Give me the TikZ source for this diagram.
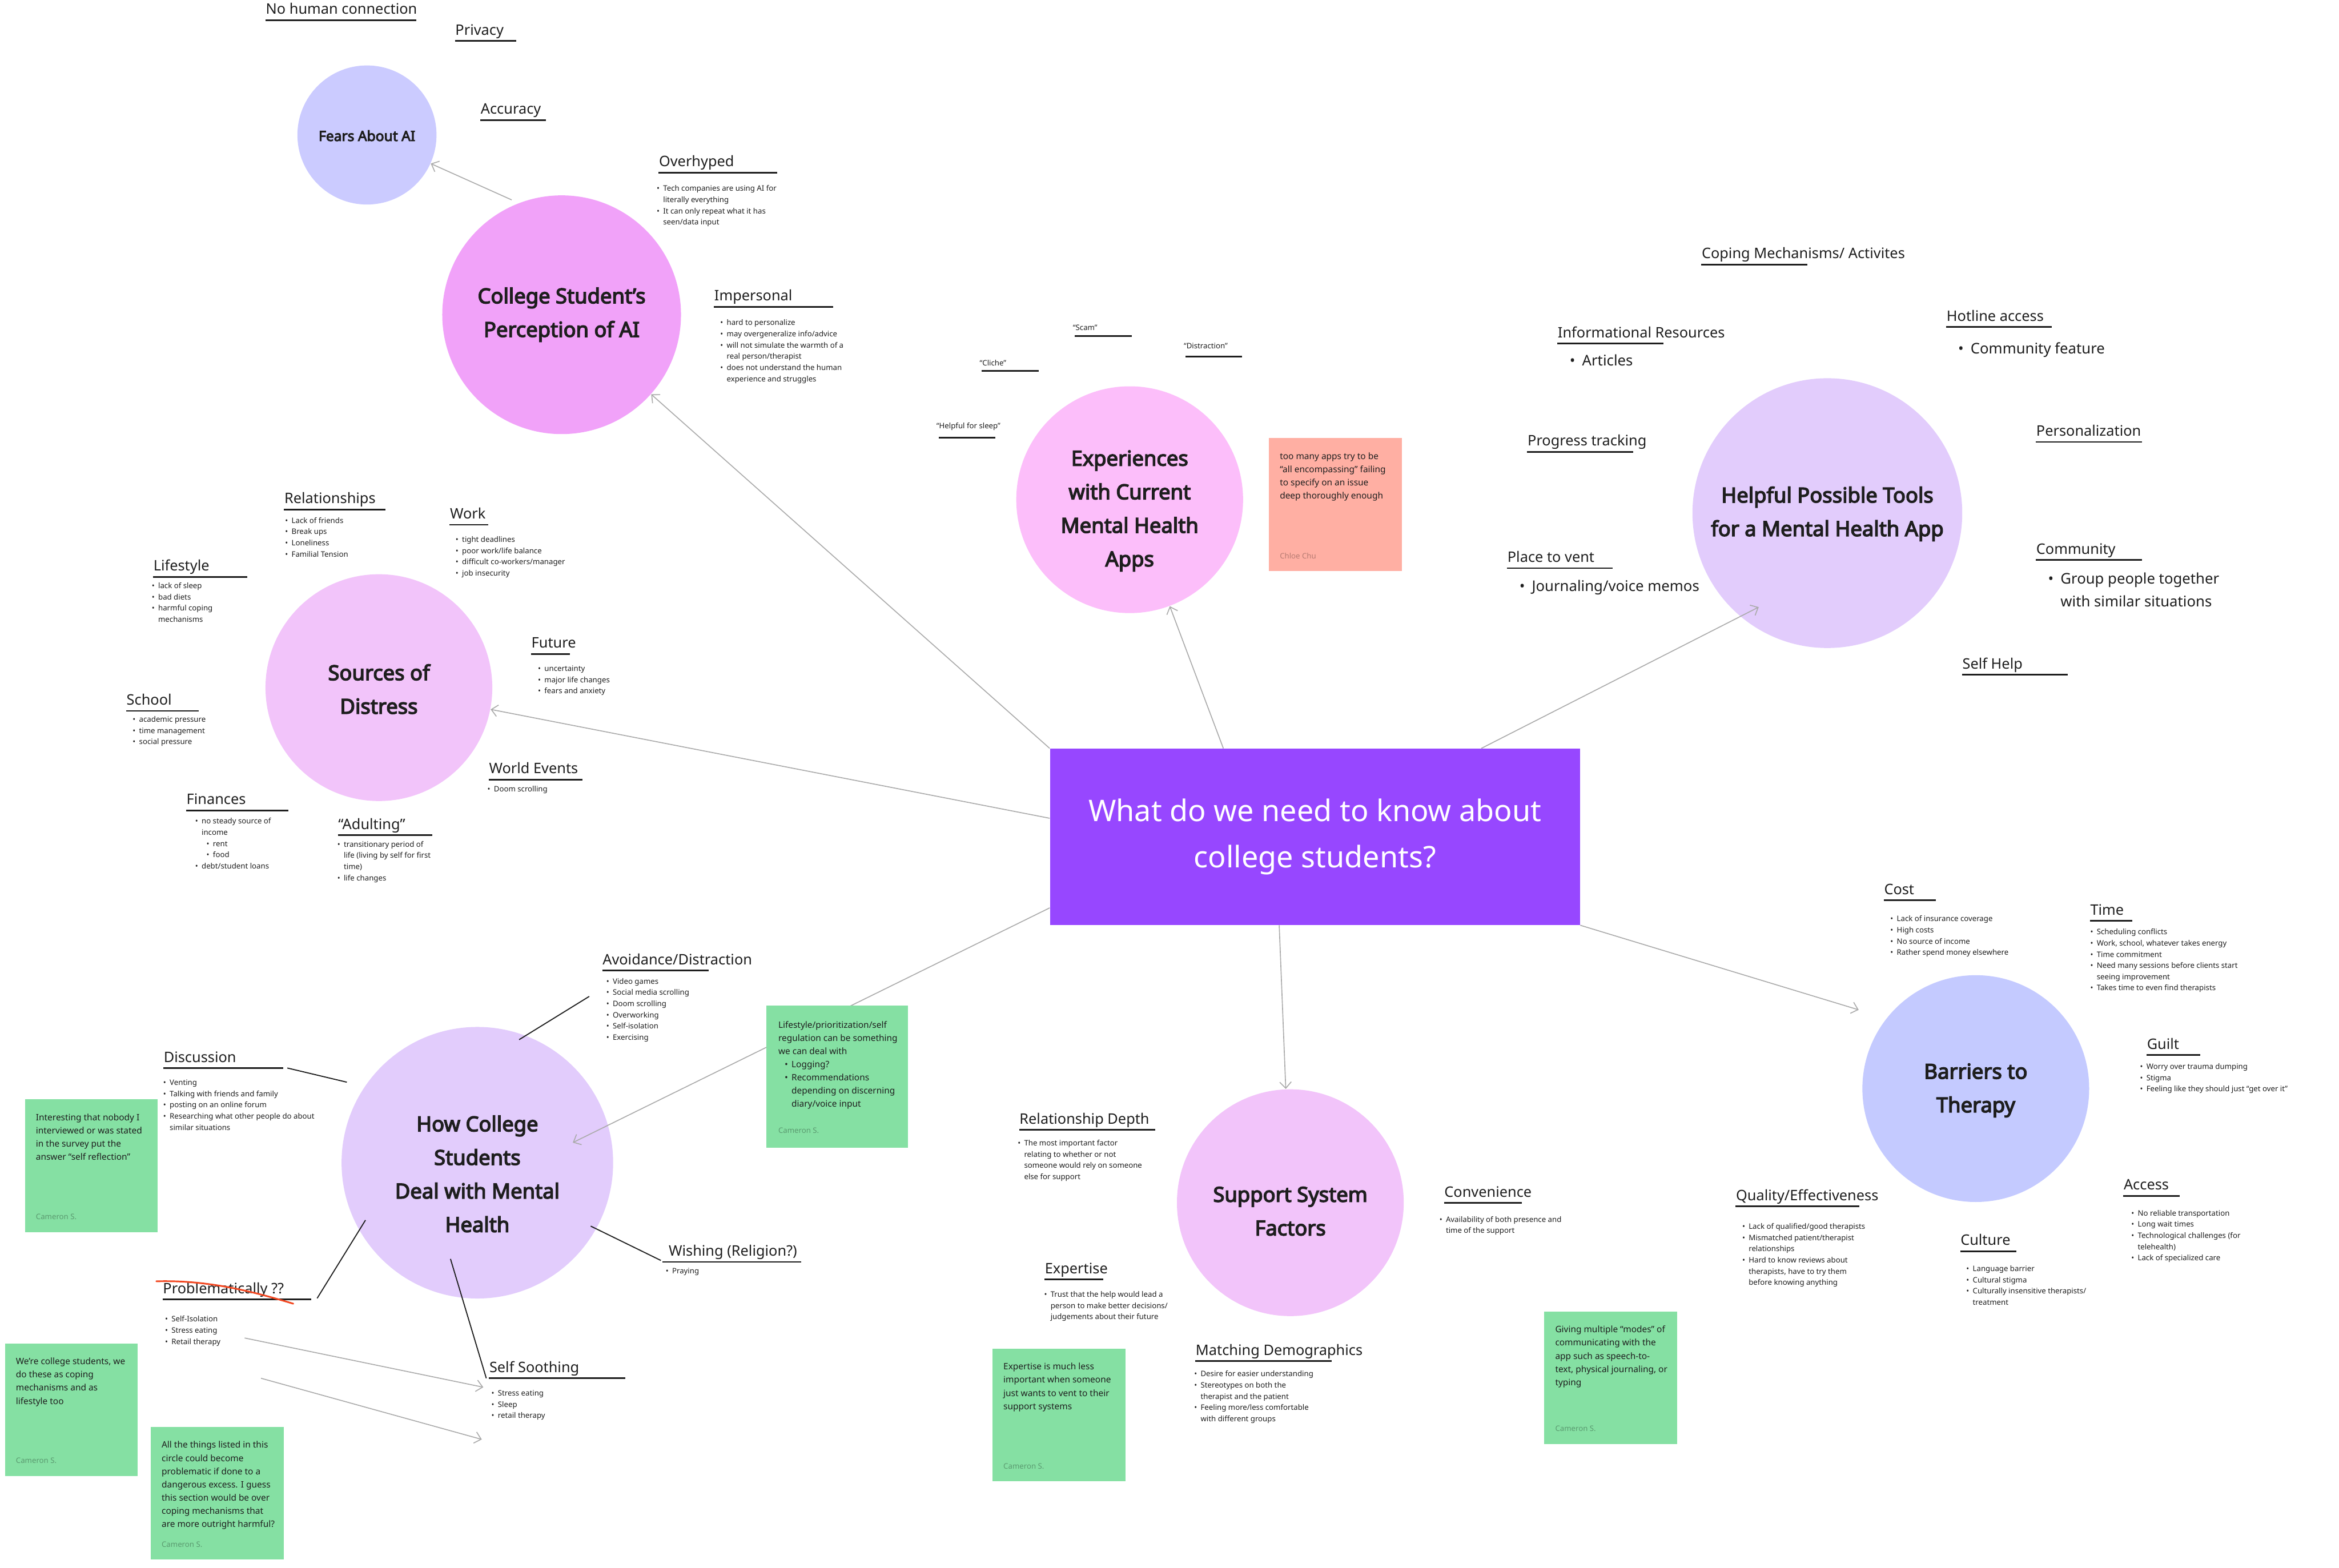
\documentclass[tikz,border=0pt]{standalone}
\usepackage{fontspec}
\setmainfont{Noto Sans}
\newfontfamily\heavysans{Noto Sans}[FakeBold=4]
\usetikzlibrary{arrows.meta,positioning}
\definecolor{ink}{HTML}{1E1E1E}
\definecolor{hubc}{HTML}{9747FF}
\definecolor{fearc}{HTML}{CBCBFF}
\definecolor{aic}{HTML}{F1A2F9}
\definecolor{srcc}{HTML}{F2C4FA}
\definecolor{expc}{HTML}{FCBEFA}
\definecolor{toolc}{HTML}{E2CCFC}
\definecolor{barc}{HTML}{C4CAFF}
\definecolor{notec}{HTML}{85E0A3}
\definecolor{salc}{HTML}{FFAFA3}
\definecolor{linkc}{HTML}{ABABAB}
\definecolor{strikec}{HTML}{F24822}
\definecolor{whoc}{HTML}{5B9B70}
\definecolor{whos}{HTML}{B77B72}
\newcommand\bu{\makebox[0.85em][l]{\textbullet}}
\newcommand\ct{\hspace*{0.85em}}
\newcommand\topic[5]{\node[hd](#1)at(#2,#3-4){#5};\draw[ul](#2,#3)--(#4,#3);}
\newcommand\memo[6]{\node[note,fill=#4](#1)at(#2,#3){};\node[ntxt](#1t)at(#2+7.3,#3+9.7){#5};\node[who](#1w)at(#2+7.3,#3+79){#6};}
\tikzset{hub/.style={fill=hubc,text=white,minimum width=8.875cm,minimum height=2.95cm,align=center,font=\fontsize{14.2}{22}\selectfont},
bub/.style={circle,inner sep=0pt},
btxt/.style={align=center,text=ink,inner sep=0pt,font=\heavysans\fontsize{9.9}{16}\selectfont},
hd/.style={anchor=base west,inner sep=0pt,text=ink,font=\fontsize{6.9}{8}\selectfont},
lst/.style={anchor=north west,inner sep=0pt,align=left,text=ink,font=\fontsize{3.6}{5.35}\selectfont},
big/.style={lst,font=\fontsize{7}{10.9}\selectfont},
tag/.style={anchor=west,inner sep=0pt,text=ink,font=\fontsize{3.6}{4.5}\selectfont},
ul/.style={draw=ink,line width=0.8pt},
link/.style={draw=linkc,line width=0.45pt,-{Straight Barb[length=3pt,width=5.5pt]}},
tie/.style={draw=ink,line width=0.5pt},
note/.style={anchor=north west,minimum width=2.225cm,minimum height=2.225cm,inner sep=0pt},
ntxt/.style={anchor=north west,inner sep=0pt,align=left,text=ink,font=\fontsize{4.2}{6.3}\selectfont},
who/.style={anchor=west,inner sep=0pt,text=whoc,font=\fontsize{3.6}{4.5}\selectfont},
strike/.style={draw=strikec,line width=0.8pt,line cap=round}}
\begin{document}
\begin{tikzpicture}[x=0.025cm,y=-0.025cm]
\fill[white](0,0)rectangle(1568,1051);
\useasboundingbox(0,0)rectangle(1568,1051);
% bubbles and the question
\node[bub,fill=fearc,minimum size=2.33cm](fear)at(246,90.5){};
\node[bub,fill=aic,minimum size=4cm](ai)at(376.5,211){};
\node[bub,fill=srcc,minimum size=3.8cm](src)at(254,461){};
\node[bub,fill=expc,minimum size=3.8cm](exp)at(757.3,335){};
\node[bub,fill=toolc,minimum size=4.52cm](tool)at(1225,344){};
\node[bub,fill=toolc,minimum size=4.55cm](how)at(320,779.5){};
\node[bub,fill=srcc,minimum size=3.8cm](sup)at(865,806.3){};
\node[bub,fill=barc,minimum size=3.8cm](bar)at(1324.5,729.8){};
\node[hub](q)at(881.5,561){What do we need to know about\\college students?};
% arrows
\foreach\n/\x/\y in {aiA/343/134,toolin/1179/407,barin/1246/677,howin/384/766,probA/164/897,soothA/324/930,probB/175/924,soothB/323/965}\coordinate(\n)at(\x,\y);
\foreach\a/\b in {aiA/fear,q.north west/ai,q.176/src,q.136/exp,q.28/toolin,q.248/sup,q.south east/barin,q.195/howin,probA/soothA,probB/soothB}\draw[link](\a)--(\b);
\foreach\n/\x/\y in {avA/348/697,avB/395/668,dcA/232.5/725.5,dcB/192.6/716,wsA/396/822,wsB/443/845,pbA/245/818,pbB/212.6/870.4,ssA/302/844,ssB/326/924}\coordinate(\n)at(\x,\y);
\foreach\a/\b in {avA/avB,dcA/dcB,wsA/wsB,pbA/pbB,ssA/ssB}\draw[tie](\a)--(\b);
% bubble titles
\node[btxt,font=\heavysans\fontsize{6.7}{8}\selectfont](feart)at(246,91){Fears About AI};
\node[btxt](ait)at(376.5,211){College Student’s\\Perception of AI};
\node[btxt](srct)at(254,462){Sources of\\Distress};
\node[btxt](expt)at(757.3,342.5){Experiences\\with Current\\Mental Health\\Apps};
\node[btxt](toolt)at(1225,344.5){Helpful Possible Tools\\for a Mental Health App};
\node[btxt](howt)at(320,787){How College\\Students\\Deal with Mental\\Health};
\node[btxt](supt)at(865,812){Support System\\Factors};
\node[btxt](bart)at(1324.5,731){Barriers to\\Therapy};
% AI
\topic{nohum}{178}{13.5}{279}{No human connection}
\topic{priv}{305}{27.5}{346}{Privacy}
\topic{acc}{322}{80.5}{366}{Accuracy}
\topic{hype}{441.5}{115.7}{521}{Overhyped}
\node[lst](hypel)at(440,124){\bu Tech companies are using AI for\\\ct literally everything\\\bu It can only repeat what it has\\\ct seen/data input};
\topic{imp}{478.6}{205.6}{558.6}{Impersonal}
\node[lst](impl)at(482.6,214){\bu hard to personalize\\\bu may overgeneralize info/advice\\\bu will not simulate the warmth of a\\\ct real person/therapist\\\bu does not understand the human\\\ct experience and struggles};
% distress
\topic{rel}{190.4}{341.6}{258.4}{Relationships}
\node[lst](rell)at(190.9,346.6){\bu Lack of friends\\\bu Break ups\\\bu Loneliness\\\bu Familial Tension};
\topic{work}{301.4}{351.8}{327.2}{Work}
\node[lst](workl)at(305.2,359.3){\bu tight deadlines\\\bu poor work/life balance\\\bu difficult co-workers/manager\\\bu job insecurity};
\topic{life}{102.6}{386.8}{165.8}{Lifestyle}
\node[lst](lifel)at(101.5,390.4){\bu lack of sleep\\\bu bad diets\\\bu harmful coping\\\ct mechanisms};
\topic{fut}{356}{438.4}{382}{Future}
\node[lst](futl)at(360.4,446){\bu uncertainty\\\bu major life changes\\\bu fears and anxiety};
\topic{sch}{84.6}{476.6}{133.3}{School}
\node[lst](schl)at(88.7,480){\bu academic pressure\\\bu time management\\\bu social pressure};
\topic{world}{327.6}{522.6}{390.5}{World Events}
\node[lst](worldl)at(326.5,526.6){\bu Doom scrolling};
\topic{fin}{124.8}{543.3}{193.3}{Finances}
\node[lst](finl)at(130.6,548.2){\bu no steady source of\\\ct income\\\hspace*{1.5em}\bu rent\\\hspace*{1.5em}\bu food\\\bu debt/student loans};
\topic{adult}{226.5}{560}{289.8}{“Adulting”}
\node[lst](adultl)at(225.9,563.6){\bu transitionary period of\\\ct life (living by self for first\\\ct time)\\\bu life changes};
% apps
\node[tag](scam)at(719,219.8){“Scam”};\draw[ul](720.6,225.4)--(758.8,225.4);
\node[tag](distr)at(793.3,231.9){“Distraction”};\draw[ul](794.9,239.2)--(832.8,239.2);
\node[tag](cliche)at(656.5,243.4){“Cliche”};\draw[ul](658,248.6)--(696.3,248.6);
\node[tag](sleep)at(627.5,286){“Helpful for sleep”};\draw[ul](629.4,293.4)--(667.3,293.4);
\memo{apps}{850.4}{293.5}{salc}{too many apps try to be\\“all encompassing” failing\\to specify on an issue\\deep thoroughly enough}{\color{whos}Chloe Chu}
% tools
\topic{cope}{1140.5}{177.4}{1211.4}{Coping Mechanisms/ Activites}
\topic{info}{1044}{230.3}{1115}{Informational Resources}
\node[big](infol)at(1052,237.5){\bu Articles};
\topic{hot}{1304.7}{219.2}{1375.6}{Hotline access}
\node[big](hotl)at(1312.4,229.5){\bu Community feature};
\topic{prog}{1023.8}{302.9}{1095}{Progress tracking}
\topic{pers}{1364.8}{296.3}{1436}{Personalization}
\topic{vent}{1010.3}{380.9}{1081.2}{Place to vent}
\node[big](ventl)at(1018.3,388.7){\bu Journaling/voice memos};
\topic{comm}{1364.8}{375.4}{1436}{Community}
\node[big](comml)at(1372.7,383.8){\bu Group people together\\\ct with similar situations};
\topic{selfh}{1315.3}{452.4}{1386}{Self Help}
% barriers
\topic{cost}{1262.8}{603.6}{1297.9}{Cost}
\node[lst](costl)at(1267,613.7){\bu Lack of insurance coverage\\\bu High costs\\\bu No source of income\\\bu Rather spend money elsewhere};
\topic{time}{1401}{617.3}{1429.4}{Time}
\node[lst](timel)at(1401,622.4){\bu Scheduling conflicts\\\bu Work, school, whatever takes energy\\\bu Time commitment\\\bu Need many sessions before clients start\\\ct seeing improvement\\\bu Takes time to even find therapists};
\topic{guilt}{1439}{707.4}{1475}{Guilt}
\node[lst](guiltl)at(1434.3,712.7){\bu Worry over trauma dumping\\\bu Stigma\\\bu Feeling like they should just “get over it”};
\topic{acs}{1423.4}{801.7}{1461}{Access}
\node[lst](acsl)at(1428.5,810.9){\bu No reliable transportation\\\bu Long wait times\\\bu Technological challenges (for\\\ct telehealth)\\\bu Lack of specialized care};
\topic{qual}{1163.5}{808.7}{1246.4}{Quality/Effectiveness}
\node[lst](quall)at(1167.7,819.9){\bu Lack of qualified/good therapists\\\bu Mismatched patient/therapist\\\ct relationships\\\bu Hard to know reviews about\\\ct therapists, have to try them\\\ct before knowing anything};
\topic{cult}{1314}{838.8}{1351.7}{Culture}
\node[lst](cultl)at(1317.9,848.2){\bu Language barrier\\\bu Cultural stigma\\\bu Culturally insensitive therapists/\\\ct treatment};
% support
\topic{rdep}{683.2}{757.5}{774.4}{Relationship Depth}
\node[lst](rdepl)at(682,764){\bu The most important factor\\\ct relating to whether or not\\\ct someone would rely on someone\\\ct else for support};
\topic{conv}{968}{806.5}{1020.3}{Convenience}
\node[lst](convl)at(964.7,815.1){\bu Availability of both presence and\\\ct time of the support};
\topic{skill}{700.2}{857.8}{739.6}{Expertise}
\node[lst](skilll)at(699.7,865.4){\bu Trust that the help would lead a\\\ct person to make better decisions/\\\ct judgements about their future};
\topic{match}{801.3}{912.5}{892.7}{Matching Demographics}
\node[lst](matchl)at(800.3,918.7){\bu Desire for easier understanding\\\bu Stereotypes on both the\\\ct therapist and the patient\\\bu Feeling more/less comfortable\\\ct with different groups};
\memo{expn}{665.1}{903.8}{notec}{Expertise is much less\\important when someone\\just wants to vent to their\\support systems}{Cameron S.}
\memo{modes}{1035}{878.9}{notec}{Giving multiple “modes” of\\communicating with the\\app such as speech-to-\\text, physical journaling, or\\typing}{Cameron S.}
% coping
\topic{avoid}{403.7}{650.6}{475.1}{Avoidance/Distraction}
\node[lst](avoidl)at(406.2,655.5){\bu Video games\\\bu Social media scrolling\\\bu Doom scrolling\\\bu Overworking\\\bu Self-isolation\\\bu Exercising};
\topic{disc}{109.5}{716.2}{190}{Discussion}
\node[lst](discl)at(109.2,723.5){\bu Venting\\\bu Talking with friends and family\\\bu posting on an online forum\\\bu Researching what other people do about\\\ct similar situations};
\node[hd](wish)at(448,842){Wishing (Religion?)};\draw[ul](444,846)--(537,846);
\node[lst](wishl)at(446,850){\bu Praying};
\topic{prob}{109}{871.2}{208.7}{Problematically ??}
\draw[strike](104.8,859) .. controls (140,858) and (170,866) .. (196.6,874);
\node[lst](probl)at(110.4,882){\bu Self-Isolation\\\bu Stress eating\\\bu Retail therapy};
\topic{sooth}{327.8}{923.9}{419}{Self Soothing}
\node[lst](soothl)at(329.2,931.8){\bu Stress eating\\\bu Sleep\\\bu retail therapy};
\node[note,fill=notec,minimum size=2.375cm](regn)at(513.3,674){};
\node[ntxt](regnt)at(521.5,684.3){Lifestyle/prioritization/self\\regulation can be something\\we can deal with\\\hspace*{3pt}\makebox[3.3pt][l]{\textbullet}Logging?\\\hspace*{3pt}\makebox[3.3pt][l]{\textbullet}Recommendations\\\hspace*{6.3pt}depending on discerning\\\hspace*{6.3pt}diary/voice input};
\node[who](regnw)at(521.5,758){Cameron S.};
\memo{intv}{16.5}{736.7}{notec}{Interesting that nobody I\\interviewed or was stated\\in the survey put the\\answer “self reflection”}{Cameron S.}
\memo{wecs}{3.1}{900.3}{notec}{We’re college students, we\\do these as coping\\mechanisms and as\\lifestyle too}{Cameron S.}
\memo{harm}{100.8}{956.3}{notec}{All the things listed in this\\circle could become\\problematic if done to a\\dangerous excess. I guess\\this section would be over\\coping mechanisms that\\are more outright harmful?}{Cameron S.}
\end{tikzpicture}
\end{document}
